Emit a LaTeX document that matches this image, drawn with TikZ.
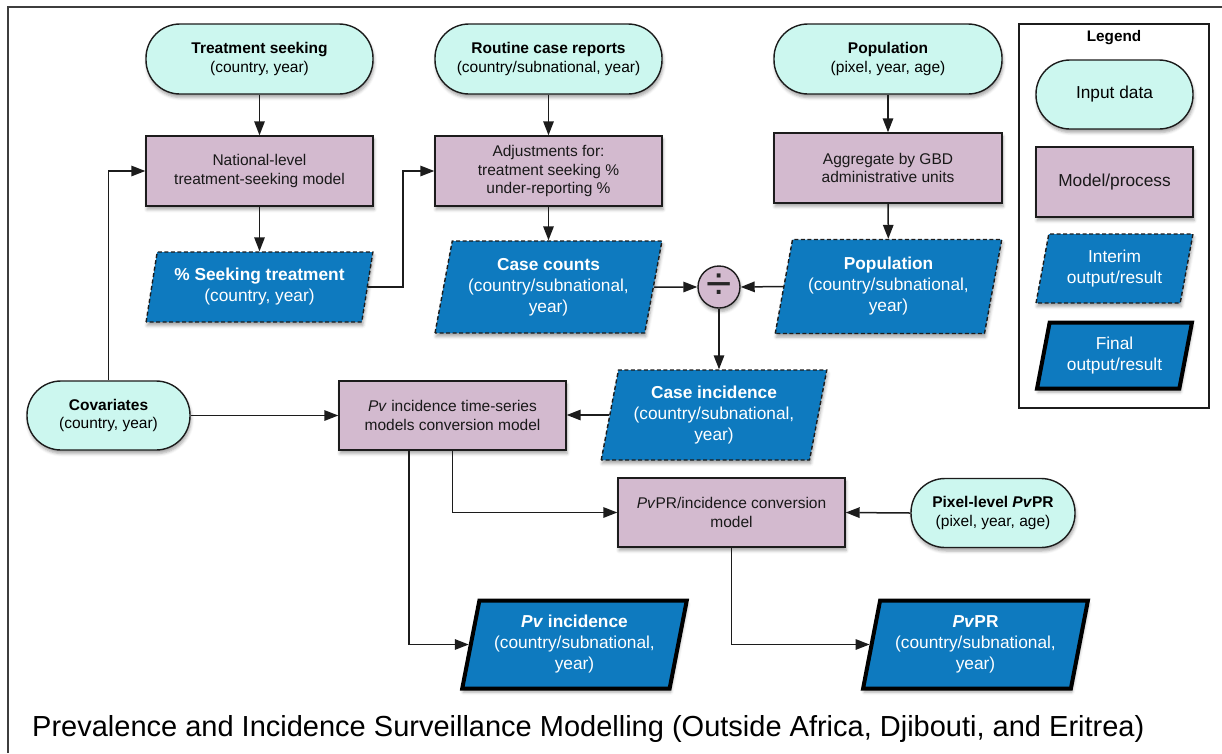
\documentclass[tikz,border=0pt]{standalone}
\usepackage{fontspec}
\setmainfont{Liberation Sans}
\usetikzlibrary{arrows.meta,shapes.geometric,shadows.blur}

\definecolor{inputfill}{RGB}{204,247,239}
\definecolor{modelfill}{RGB}{211,186,207}
\definecolor{outfill}{RGB}{14,122,191}
\definecolor{edge}{RGB}{28,28,28}

\tikzset{
  softshadow/.style={blur shadow={shadow xshift=1pt, shadow yshift=-3.5pt,
      shadow blur radius=3pt, shadow opacity=35}},
  bodyfont/.style={font=\fontsize{15.5}{18.5}\selectfont},
  inputbox/.style={draw=edge, line width=1.4pt, fill=inputfill, rounded corners=34pt,
      minimum width=227pt, minimum height=70pt, align=center, inner sep=0pt,
      text=black, bodyfont, softshadow},
  modelbox/.style={draw=edge, line width=1.4pt, fill=modelfill,
      minimum width=227pt, minimum height=70pt, align=center, inner sep=0pt,
      text=black!90, bodyfont, softshadow},
  outbase/.style={trapezium, trapezium left angle=76, trapezium right angle=104,
      trapezium stretches=true, fill=outfill, text=white,
      minimum width=227pt, minimum height=70pt, align=center, inner sep=0pt,
      font=\fontsize{17.3}{21}\selectfont, softshadow},
  interim/.style={outbase, draw=edge, line width=1.4pt, dash pattern=on 4pt off 2.5pt},
  final/.style={outbase, draw=black, line width=4pt},
  conn/.style={draw=edge, line width=1.5pt, -{Triangle[length=14pt,width=10.5pt]}},
  frameline/.style={draw=edge!85, line width=1.4pt},
}

\begin{document}
\begin{tikzpicture}[x=1pt, y=-1pt]
  \useasboundingbox (0,0) rectangle (1222,753);

  % page frame (top and left rules)
  \draw[frameline] (8,753) -- (8,7) -- (1222,7);

  % ---- inputs ----
  \node[inputbox] (ts) at (259.5,59) {\textbf{Treatment seeking}\\(country, year)};
  \node[inputbox] (rcr) at (548.5,59) {\textbf{Routine case reports}\\(country/subnational, year)};
  \node[inputbox, minimum width=228pt] (popin) at (888,59) {\textbf{Population}\\(pixel, year, age)};

  % ---- first processing row ----
  \node[modelbox] (ntsm) at (259.5,171) {National-level\\treatment-seeking model};
  \node[modelbox] (adj) at (548.5,171) {Adjustments for:\\treatment seeking \%\\under-reporting \%};
  \node[modelbox, minimum width=228pt] (agg) at (888,168) {Aggregate by GBD\\administrative units};

  % ---- interim outputs ----
  \node[interim] (pst) at (259.5,287) {\textbf{\% Seeking treatment}\\(country, year)};
  \node[interim, minimum height=92pt] (cc) at (548.5,287) {\textbf{Case counts}\\(country/subnational,\\year)};
  \node[interim, minimum height=94pt] (popout) at (888.5,286.5) {\textbf{Population}\\(country/subnational,\\year)};

  % division operator
  \node[circle, draw=edge, line width=1.4pt, fill=modelfill, minimum size=42pt,
        inner sep=0pt, softshadow, text=black!85, font=\fontsize{46}{46}\selectfont]
        (div) at (719,287) {÷};

  \node[interim, minimum width=226pt, minimum height=90pt] (ci) at (714,415)
        {\textbf{Case incidence}\\(country/subnational,\\year)};

  % ---- covariates and models ----
  \node[inputbox, minimum width=163pt, minimum height=69pt] (cov) at (108.5,415.5)
        {\textbf{Covariates}\\(country, year)};
  \node[modelbox, minimum height=69pt] (tsm) at (452.5,415.5)
        {\textit{Pv} incidence time-series\\models conversion model};
  \node[modelbox, minimum height=69pt] (conv) at (731.5,512.5)
        {\textit{Pv}PR/incidence conversion\\model};
  \node[inputbox, minimum width=164pt, minimum height=69pt] (pix) at (993,513)
        {\textbf{Pixel-level \textit{Pv}PR}\\(pixel, year, age)};

  % ---- final outputs ----
  \node[final, minimum width=225pt, minimum height=88pt] (pvinc) at (574.5,644.5)
        {\textbf{\textit{Pv} incidence}\\(country/subnational,\\year)};
  \node[final, minimum width=225pt, minimum height=88pt] (pvpr) at (975.5,644.5)
        {\textbf{\textit{Pv}PR}\\(country/subnational,\\year)};

  % ---- connectors ----
  \draw[conn] (ts) -- (ntsm);
  \draw[conn] (ntsm) -- (pst);
  \draw[conn] (rcr) -- (adj);
  \draw[conn] (adj) -- (cc);
  \draw[conn] (popin) -- (agg);
  \draw[conn] (agg) -- (popout);
  \draw[conn] (pst.east) -- ++(35,0) |- (adj.west);
  \draw[conn] (cov.north) |- (ntsm.west);
  \draw[conn] (cov.east) -- (tsm.west);
  \draw[conn] (cc.east) -- (div.west);
  \draw[conn] (popout.west) -- (div.east);
  \draw[conn] (div.south) -- (div.south |- ci.north);
  \draw[conn] (ci.west) -- (ci.west -| tsm.east);
  \draw[conn] (tsm.south) |- (conv.west);
  \draw[conn] ([xshift=-43.5pt]tsm.south) |- (pvinc.west);
  \draw[conn] (pix.west) -- (conv.east);
  \draw[conn] (conv.south) |- (pvpr.west);

  % ---- legend ----
  \node[draw=edge, line width=1.4pt, minimum width=190pt, minimum height=384pt,
        inner sep=0pt] (legend) at (1114,216) {};
  \node[font=\fontsize{15.3}{18}\selectfont\bfseries, anchor=base] (lgtitle) at (1114,41) {Legend};
  \node[inputbox, minimum width=157pt, minimum height=69pt, font=\fontsize{17.3}{21}\selectfont]
        (lgin) at (1114.5,94.5) {Input data};
  \node[modelbox, minimum width=157pt, minimum height=70pt, font=\fontsize{17.3}{21}\selectfont]
        (lgmod) at (1114.5,182) {Model/process};
  \node[interim, minimum width=157pt, minimum height=69pt] (lgint) at (1114.5,268.5)
        {Interim\\output/result};
  \node[final, minimum width=155pt, minimum height=66pt] (lgfin) at (1114.5,355.5)
        {Final\\output/result};

  % ---- caption ----
  \node[anchor=base west, inner sep=0pt, font=\fontsize{29}{33}\selectfont] (title) at (32,736)
        {Prevalence and Incidence Surveillance Modelling (Outside Africa, Djibouti, and Eritrea)};
\end{tikzpicture}
\end{document}
